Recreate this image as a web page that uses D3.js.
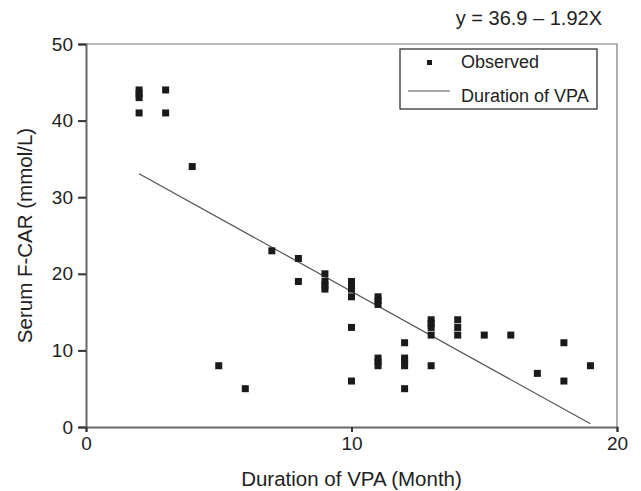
<!DOCTYPE html>
<html>
<head>
<meta charset="utf-8">
<script src="https://cdn.jsdelivr.net/npm/d3@7"></script>
<style>
  body { margin: 0; background: #fff; }
  text { font-family: "Liberation Sans", Arial, sans-serif; fill: #222; }
</style>
</head>
<body>
<div id="chart"></div>
<script>
// observed points: duration (months) and serum F-CAR (mmol/L)
const durations = [2, 2, 2, 2, 3, 3, 4, 5, 6, 7, 8, 8, 9, 9, 9, 9,
  10, 10, 10, 10, 10, 10, 11, 11, 11, 11, 11, 11, 12, 12, 12, 12, 12,
  13, 13, 13, 13, 13, 14, 14, 14, 15, 16, 17, 18, 18, 19];
const fcar = [44, 43.5, 43, 41, 44, 41, 34, 8, 5, 23, 22, 19, 20, 19, 18.5, 18,
  19, 18.5, 18, 17, 13, 6, 17, 16.5, 16, 9, 8.5, 8, 11, 9, 8.5, 8, 5,
  14, 13.5, 13, 12, 8, 14, 13, 12, 12, 12, 7, 11, 6, 8];

// regression y = 36.9 - 1.92x
const intercept = 36.9;
const slope = -1.92;
const fitRange = [2, 19];

const xTicks = [0, 10, 20];
const yTicks = [0, 10, 20, 30, 40, 50];

function drawChart() {
  const width = 641;
  const height = 491;
  const margin = { left: 86, right: 24, top: 44, bottom: 64 };

  const svg = d3.select("#chart")
    .append("svg")
    .attr("width", width)
    .attr("height", height);

  const x = d3.scaleLinear().domain([0, 20]).range([margin.left, width - margin.right]);
  const y = d3.scaleLinear().domain([0, 50]).range([height - margin.bottom, margin.top]);

  // frame top / right
  svg.append("path")
    .attr("d", `M${x(0)},${y(50)}H${x(20)}V${y(0)}`)
    .attr("fill", "none")
    .attr("stroke", "#777")
    .attr("stroke-width", 1.2);

  // axes
  const yAxis = svg.append("g")
    .attr("transform", `translate(${x(0)},0)`)
    .call(d3.axisLeft(y).tickValues(yTicks).tickSize(8).tickPadding(5));
  const xAxis = svg.append("g")
    .attr("transform", `translate(0,${y(0)})`)
    .call(d3.axisBottom(x).tickValues(xTicks).tickSize(5).tickPadding(5));

  [xAxis, yAxis].forEach(g => {
    g.select(".domain").attr("stroke", "#666").attr("stroke-width", 2);
    g.selectAll(".tick line").attr("stroke", "#333").attr("stroke-width", 2);
    g.selectAll(".tick text")
      .attr("font-size", 19)
      .attr("font-family", "Liberation Sans, Arial, sans-serif")
      .attr("fill", "#222");
  });

  // fit line
  svg.append("line")
    .attr("x1", x(fitRange[0]))
    .attr("y1", y(intercept + slope * fitRange[0]))
    .attr("x2", x(fitRange[1]))
    .attr("y2", y(intercept + slope * fitRange[1]))
    .attr("stroke", "#555")
    .attr("stroke-width", 1.2);

  // points
  const s = 7;
  svg.selectAll("rect.pt")
    .data(durations.map((d, i) => [d, fcar[i]]))
    .join("rect")
    .attr("class", "pt")
    .attr("x", d => x(d[0]) - s / 2)
    .attr("y", d => y(d[1]) - s / 2)
    .attr("width", s)
    .attr("height", s)
    .attr("fill", "#1a1a1a");

  // legend
  const lg = svg.append("g");
  lg.append("rect")
    .attr("x", 400).attr("y", 49)
    .attr("width", 197).attr("height", 60)
    .attr("fill", "#fff")
    .attr("stroke", "#222")
    .attr("stroke-width", 1.2);
  lg.append("rect")
    .attr("x", 427).attr("y", 60)
    .attr("width", 5).attr("height", 5)
    .attr("fill", "#1a1a1a");
  lg.append("text").attr("x", 461).attr("y", 68).attr("font-size", 18).text("Observed");
  lg.append("line")
    .attr("x1", 408).attr("x2", 450).attr("y1", 91).attr("y2", 91)
    .attr("stroke", "#555").attr("stroke-width", 1.2);
  lg.append("text").attr("x", 461).attr("y", 102).attr("font-size", 18).text("Duration of VPA");

  // equation
  svg.append("text")
    .attr("x", 602).attr("y", 25)
    .attr("text-anchor", "end")
    .attr("font-size", 20)
    .text("y = 36.9 \u2013 1.92X");

  // axis titles
  svg.append("text")
    .attr("x", (x(0) + x(20)) / 2)
    .attr("y", 486)
    .attr("text-anchor", "middle")
    .attr("font-size", 20.5)
    .text("Duration of VPA (Month)");

  svg.append("text")
    .attr("transform", `translate(32,${(y(0) + y(50)) / 2}) rotate(-90)`)
    .attr("text-anchor", "middle")
    .attr("font-size", 20.5)
    .text("Serum F-CAR (mmol/L)");
}

drawChart();
</script>
</body>
</html>
